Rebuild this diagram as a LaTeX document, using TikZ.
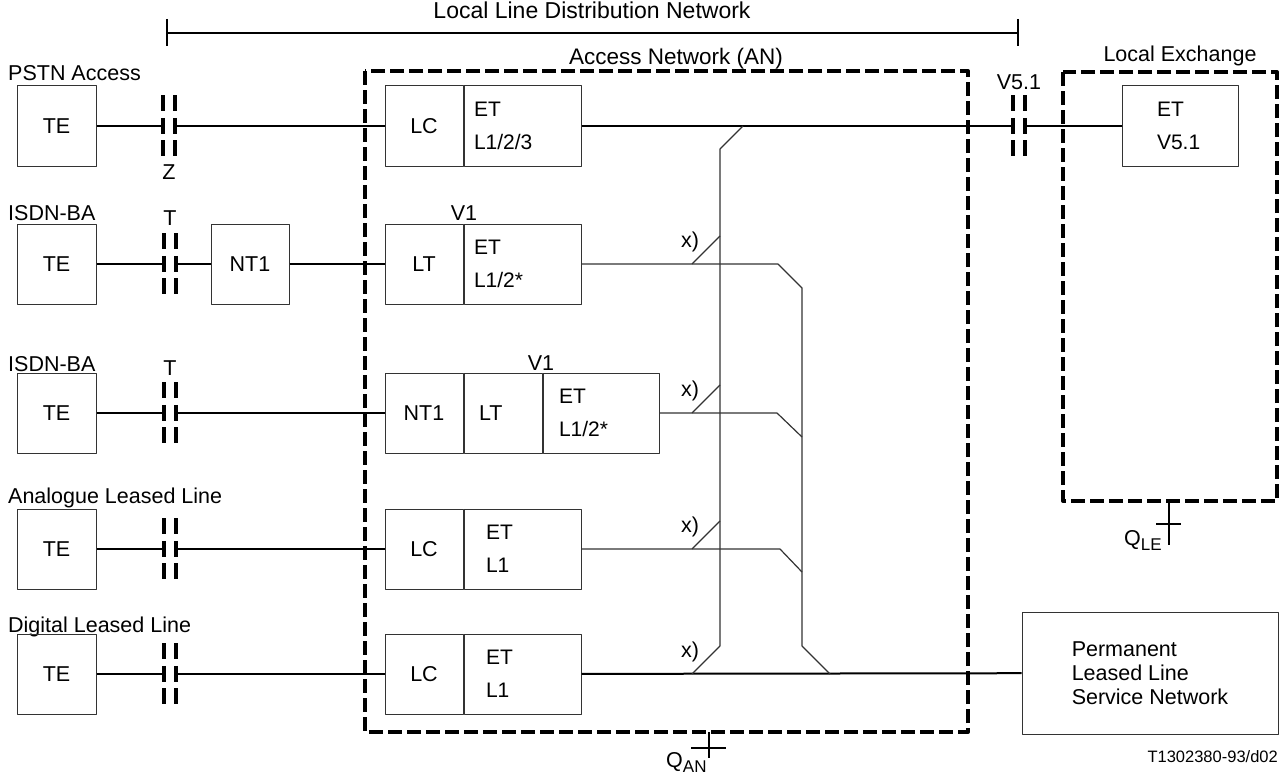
\documentclass[tikz,border=0pt]{standalone}
\usepackage{fontspec}
\setmainfont{Liberation Sans}
\usetikzlibrary{positioning}
\tikzset{
  box/.style={draw=black!80, line width=1pt, minimum height=80pt, inner sep=0pt},
  etbox/.style={box, align=left, text width=97pt, inner xsep=10pt, font=\fontsize{21}{33}\selectfont},
  ifc/.style={minimum width=12pt, minimum height=61pt, inner sep=0pt},
  bar/.style={line width=4.5pt, dash pattern=on 16pt off 6.5pt},
  wire/.style={line width=2pt},
  xline/.style={line width=1.2pt, black!80},
  bound/.style={line width=4pt, dash pattern=on 14pt off 5pt},
  lab/.style={inner sep=0pt},
}
\begin{document}
\begin{tikzpicture}[x=1pt, y=-1pt, font=\fontsize{21.5}{24}\selectfont, line join=round]
\useasboundingbox (0,0) rectangle (1288,776);

% distribution network span
\node[lab, anchor=base, font=\fontsize{23}{24}\selectfont] (lldn) at (592,19) {Local Line Distribution Network};
\draw[wire] (167,19) -- (167,46);
\draw[wire] (1018,19) -- (1018,46);
\draw[wire] (167,33) -- (1018,33);

% access network and local exchange
\draw[bound] (365,71) rectangle (968,732);
\draw[bound] (1063,72) rectangle (1277,501);
\node[lab, anchor=base, font=\fontsize{22.5}{24}\selectfont] (anl) at (676,64) {Access Network (AN)};
\node[lab, anchor=base] (lel) at (1180,62) {Local Exchange};

% user side
\foreach \txt/\yb [count=\i] in {PSTN Access/81, ISDN-BA/220, ISDN-BA/371, Analogue Leased Line/503, Digital Leased Line/632}
  \node[lab, anchor=base west] (row\i) at (8,\yb) {\txt};
\foreach \y [count=\i] in {126,264,413,549,674}
  \node[box, minimum width=79pt] (te\i) at (56.5,\y) {TE};

% interfaces
\node[ifc] (mz) at (169,126) {};
\node[ifc] (mt2) at (170,264) {};
\node[ifc] (mt3) at (170,413) {};
\node[ifc] (m4) at (170,549) {};
\node[ifc] (m5) at (170,674) {};
\node[ifc] (mv) at (1019,126) {};
\foreach \m in {mz,mt2,mt3,m4,m5,mv} {
  \draw[bar] (\m.north west) -- (\m.south west);
  \draw[bar] (\m.north east) -- (\m.south east);
}
\node (labz) at (169,172) {Z};
\node (labt2) at (170,218) {T};
\node (labt3) at (170,368) {T};
\node (labv) at (1019,82) {V5.1};

% line units
\node[box, minimum width=78pt] (nt2) at (250,264) {NT1};
\node[box, minimum width=78pt] (lc1) at (424,126) {LC};
\node[etbox, right=0pt of lc1] (et1) {ET\\L1/2/3};
\node[box, minimum width=78pt] (lt2) at (424,264) {LT};
\node[etbox, right=0pt of lt2] (et2) {ET\\L1/2*};
\node[box, minimum width=78pt] (nt3) at (424,413) {NT1};
\node[box, align=left, text width=48pt, inner xsep=15pt, right=0pt of nt3] (lt3) {LT};
\node[etbox, text width=84pt, inner xsep=16pt, right=0pt of lt3] (et3) {ET\\L1/2*};
\node[box, minimum width=78pt] (lc4) at (424,549) {LC};
\node[etbox, text width=73pt, inner xsep=22pt, right=0pt of lc4] (et4) {ET\\L1};
\node[box, minimum width=78pt] (lc5) at (424,674) {LC};
\node[etbox, text width=73pt, inner xsep=22pt, right=0pt of lc5] (et5) {ET\\L1};
\node (labv2) at (464,213) {V1};
\node (labv3) at (541,363) {V1};

% exchange side
\node[etbox, text width=46pt, inner xsep=35pt] (etle) at (1180,126) {ET\\V5.1};
\node[box, minimum height=122pt, minimum width=256pt, align=left] (plsn) at (1150,673) {Permanent\\Leased Line\\Service Network};

% connections
\draw[wire] (te1) -- (mz.west);
\draw[wire] (mz.east) -- (lc1);
\draw[wire] (et1) -- (mv.west);
\draw[wire] (mv.east) -- (etle);
\draw[wire] (te2) -- (mt2.west);
\draw[wire] (mt2.east) -- (nt2);
\draw[wire] (nt2) -- (lt2);
\draw[wire] (te3) -- (mt3.west);
\draw[wire] (mt3.east) -- (nt3);
\draw[wire] (te4) -- (m4.west);
\draw[wire] (m4.east) -- (lc4);
\draw[wire] (te5) -- (m5.west);
\draw[wire] (m5.east) -- (lc5);
\draw[wire] (et5) -- (plsn);

% cross connect
\coordinate (ja) at (743,126);
\draw[xline] (ja) -- (720,149) -- (720,646);
\foreach \y in {264,413,549,674} {
  \draw[xline] (692,\y) -- (720,\y-28);
  \node[lab, anchor=base] (x\y) at (690,\y-17) {x)};
}
\draw[xline] (et2.east) -- (778,264) -- (802,288) -- (802,646) -- (830,674);
\draw[xline] (et3.east) -- (777,413) -- (802,437);
\draw[xline] (et4.east) -- (780,549) -- (802,572);

% management interfaces
\draw[wire] (709,732) -- (709,758);
\draw[wire] (691,748) -- (726,748);
\node[lab, anchor=base west] (qan) at (666,767) {Q\raisebox{-5pt}{\fontsize{17}{17}\selectfont AN}};
\draw[wire] (1169,501) -- (1169,545);
\draw[wire] (1156,524) -- (1181,524);
\node[lab, anchor=base west] (qle) at (1124,545) {Q\raisebox{-5pt}{\fontsize{17}{17}\selectfont LE}};

\node[lab, anchor=base east, font=\fontsize{16.5}{20}\selectfont] (tag) at (1278,762) {T1302380-93/d02};
\end{tikzpicture}
\end{document}
